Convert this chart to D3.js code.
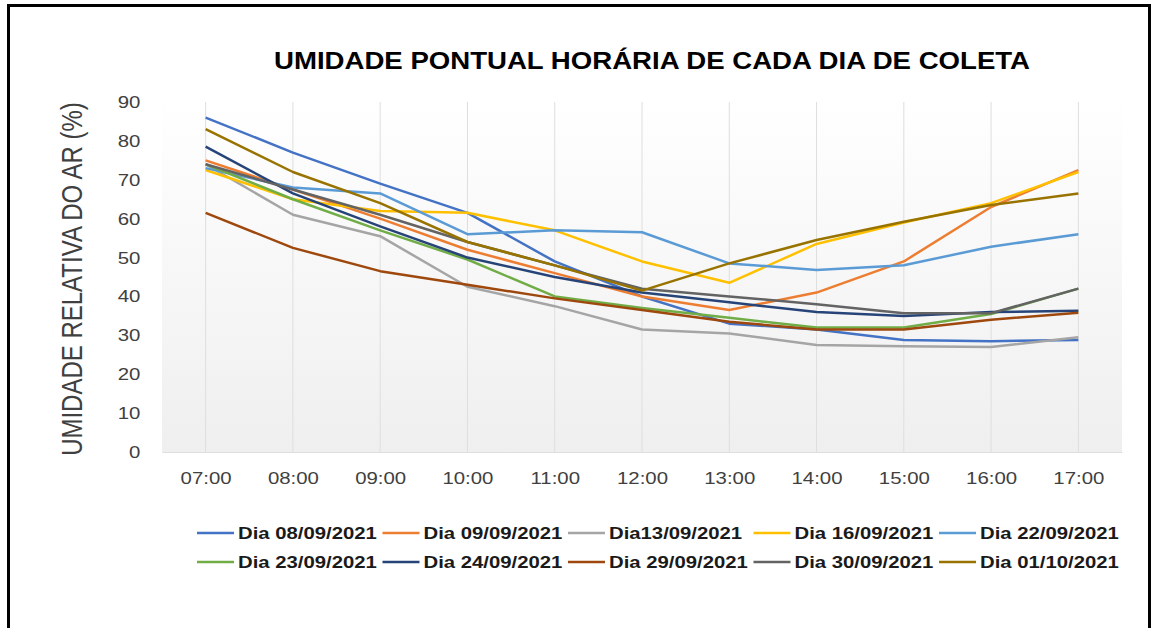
<!DOCTYPE html>
<html>
<head>
<meta charset="utf-8">
<script src="https://d3js.org/d3.v7.min.js"></script>
<style>
  body { margin: 0; background: #fff; }
  text { font-family: "Liberation Sans", Arial, sans-serif; }
</style>
</head>
<body>
<div id="chart"></div>
<script>
// horas de coleta
const hours = ["07:00", "08:00", "09:00", "10:00", "11:00", "12:00", "13:00", "14:00", "15:00", "16:00", "17:00"];

const days = ["Dia 08/09/2021", "Dia 09/09/2021", "Dia13/09/2021", "Dia 16/09/2021", "Dia 22/09/2021",
    "Dia 23/09/2021", "Dia 24/09/2021", "Dia 29/09/2021", "Dia 30/09/2021", "Dia 01/10/2021"];

// umidade relativa (%) por hora
const dia0809 = [86, 77, 69, 61.5, 49, 40, 33, 31.5, 28.8, 28.5, 28.8];
const dia0909 = [75, 67.5, 60, 52, 46, 40, 36.5, 41, 49, 63, 72.5];
const dia1309 = [74, 61, 55.5, 42.5, 37.5, 31.5, 30.5, 27.5, 27.2, 27, 29.5];
const dia1609 = [72.5, 65, 62, 61.5, 57, 49, 43.5, 53.5, 59, 64, 72];
const dia2209 = [73, 68, 66.5, 56, 57, 56.5, 48.5, 46.8, 48, 52.8, 56];
const dia2309 = [74, 65, 57, 49.5, 40, 37, 34.5, 32, 32, 35.5, 42];
const dia2409 = [78.5, 66.5, 58, 50, 45, 41, 38.5, 36, 35, 36, 36.3];
const dia2909 = [61.5, 52.5, 46.5, 43, 39.5, 36.5, 33.5, 31.5, 31.5, 34, 35.8];
const dia3009 = [74, 67.5, 61, 54, 48, 42, 40, 38, 35.7, 35.7, 42];
const dia0110 = [83, 72, 64, 54, 48, 41.5, 48.5, 54.5, 59.2, 63.5, 66.5];

const values = [dia0809, dia0909, dia1309, dia1609, dia2209, dia2309, dia2409, dia2909, dia3009, dia0110];
const yTicks = [0, 10, 20, 30, 40, 50, 60, 70, 80, 90];

const colors = ["#4472C4", "#ED7D31", "#A5A5A5", "#FFC000", "#5B9BD5",
    "#70AD47", "#264478", "#9E480E", "#636363", "#997300"];

let dimension = {
    width: 1154,
    height: 628,
    plot: { left: 162, right: 1122, top: 102, bottom: 452 }
};
const sx = 1.2; // o gráfico original está esticado na horizontal

let svg = d3.select("#chart")
    .append("svg")
    .attr("width", dimension.width)
    .attr("height", dimension.height);

let defs = svg.append("defs");
let grad = defs.append("linearGradient")
    .attr("id", "bg")
    .attr("x1", 0).attr("y1", 0).attr("x2", 0).attr("y2", 1);
grad.append("stop").attr("offset", "0%").attr("stop-color", "#ffffff");
grad.append("stop").attr("offset", "100%").attr("stop-color", "#efefef");

// moldura
svg.append("path")
    .attr("d", "M8.5,640 V5.5 H1149.5 V640")
    .attr("fill", "none")
    .attr("stroke", "#000")
    .attr("stroke-width", 3);

let X = d3.scalePoint()
    .domain(hours)
    .range([dimension.plot.left, dimension.plot.right])
    .padding(0.5);

let Y = d3.scaleLinear()
    .domain([0, 90])
    .range([dimension.plot.bottom, dimension.plot.top]);

svg.append("rect")
    .attr("x", dimension.plot.left)
    .attr("y", dimension.plot.top - 6)
    .attr("width", dimension.plot.right - dimension.plot.left)
    .attr("height", dimension.plot.bottom - dimension.plot.top + 6)
    .attr("fill", "url(#bg)");

// grade vertical
svg.append("g")
    .selectAll("line")
    .data(hours)
    .enter()
    .append("line")
    .attr("x1", d => X(d)).attr("x2", d => X(d))
    .attr("y1", dimension.plot.top).attr("y2", dimension.plot.bottom)
    .attr("stroke", "#dedede")
    .attr("stroke-width", 1);

let Xaxis = d3.axisBottom(X).tickSize(0).tickPadding(20);
let Yaxis = d3.axisLeft(Y).tickValues(yTicks).tickSize(0).tickPadding(18);

svg.append("g")
    .attr("class", "axis x-axis")
    .attr("transform", "translate(0," + dimension.plot.bottom + ")")
    .call(Xaxis)
    .call(g => g.select(".domain").attr("stroke", "#dedede"));

svg.append("g")
    .attr("class", "axis y-axis")
    .attr("transform", "translate(" + dimension.plot.left + ",0)")
    .call(Yaxis)
    .call(g => g.select(".domain").remove());

svg.selectAll(".axis text")
    .attr("font-family", "Liberation Sans, Arial, sans-serif")
    .attr("font-size", 17)
    .attr("fill", "#404040")
    .attr("transform", `scale(${sx},1)`);

// linhas
let line = d3.line()
    .x((d, i) => X(hours[i]))
    .y(d => Y(d));

svg.append("g")
    .selectAll("path")
    .data(values)
    .enter()
    .append("path")
    .attr("d", line)
    .attr("fill", "none")
    .attr("stroke", (d, i) => colors[i])
    .attr("stroke-width", 2.5)
    .attr("stroke-linejoin", "round");

// título
svg.append("text")
    .attr("transform", `translate(652,69) scale(${sx},1)`)
    .attr("text-anchor", "middle")
    .attr("font-size", 23)
    .attr("font-weight", "bold")
    .attr("fill", "#000")
    .text("UMIDADE PONTUAL HORÁRIA DE CADA DIA DE COLETA");

svg.append("text")
    .attr("transform", `translate(82,279) scale(${sx},1) rotate(-90)`)
    .attr("text-anchor", "middle")
    .attr("font-size", 24)
    .attr("fill", "#404040")
    .text("UMIDADE RELATIVA DO AR (%)");

// legenda
let legend = svg.append("g")
    .selectAll("g")
    .data(days)
    .enter()
    .append("g")
    .attr("transform", (d, i) => `translate(${197 + (i % 5) * 185.5},${533 + Math.floor(i / 5) * 29})`);

legend.append("line")
    .attr("x1", 0).attr("x2", 37)
    .attr("stroke", (d, i) => colors[i])
    .attr("stroke-width", 2.5);

legend.append("text")
    .attr("transform", "translate(41,0) scale(1.27,1)")
    .attr("dy", "0.36em")
    .attr("font-size", 16)
    .attr("font-weight", "bold")
    .attr("fill", "#1a1a1a")
    .text(d => d);
</script>
</body>
</html>
